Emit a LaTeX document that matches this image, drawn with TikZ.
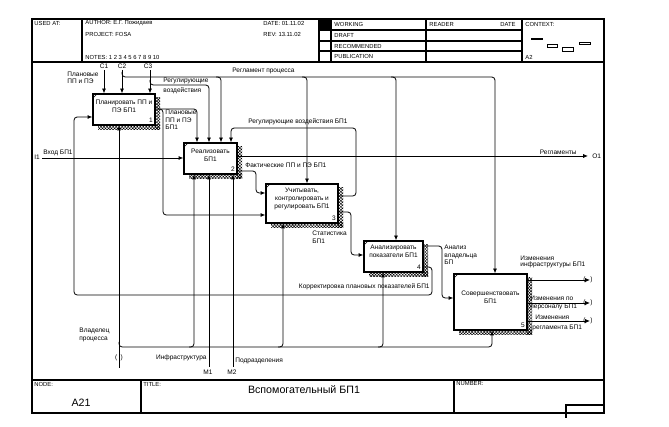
\documentclass[tikz,border=0pt]{standalone}
\usepackage{fontspec}
\setmainfont{Liberation Sans}
\usetikzlibrary{arrows.meta,patterns.meta,fit}
\begin{document}
\begin{tikzpicture}[x=0.75pt,y=-0.75pt,
  line width=0.6pt,
  frm/.style={line width=0.8pt},
  box/.style={draw, line width=0.9pt, inner sep=0pt, fill=white},
  arr/.style={-{Latex[length=3.6pt,width=3pt]}, rounded corners=2.4pt, line width=0.6pt},
  lbl/.style={font=\fontsize{4.9}{5.6}\selectfont, inner sep=0pt, align=left},
  btx/.style={font=\fontsize{4.9}{6.2}\selectfont, inner sep=0pt, align=center},
  hdr/.style={font=\fontsize{4.4}{5}\selectfont, inner sep=0pt, anchor=west},
  shd/.style={pattern={Hatch[angle=45,distance=1.6pt,line width=0.35pt]}},
  mk/.style={line width=0.4pt}]
\useasboundingbox (0,0) rectangle (669,427);
% ---------- frame ----------
\draw[frm] (32,19) rectangle (604,413);
\draw[frm] (32,62) -- (604,62);
\draw[frm] (32,380) -- (604,380);
\draw[frm] (82,19) -- (82,62);
\draw[frm] (319,19) -- (319,62);
\draw[frm] (331,19) -- (331,62);
\draw[frm] (426,19) -- (426,62);
\draw[frm] (522,19) -- (522,62);
\draw[frm] (319,30) -- (522,30);
\draw[frm] (319,41) -- (522,41);
\draw[frm] (319,51) -- (522,51);
\fill (319,19) rectangle (331,30);
\draw[frm] (141,380) -- (141,413);
\draw[frm] (454,380) -- (454,413);
\draw[frm] (566,418) -- (566,405) -- (604,405);
% header text
\node[hdr] at (34,23) {USED AT:};
\node[hdr] at (85,23) {AUTHOR:  Е.Г. Пожидаев};
\node[hdr] at (85,34) {PROJECT:  FOSA};
\node[hdr] at (85,57) {NOTES:  1  2  3  4  5  6  7  8  9  10};
\node[hdr] at (263,23) {DATE: 01.11.02};
\node[hdr] at (263,34) {REV:  13.11.02};
\node[hdr] at (334,24.5) {WORKING};
\node[hdr] at (334,35.5) {DRAFT};
\node[hdr] at (334,46) {RECOMMENDED};
\node[hdr] at (334,56.5) {PUBLICATION};
\node[hdr] at (429,24.5) {READER};
\node[hdr] at (500,24.5) {DATE};
\node[hdr] at (525,24.5) {CONTEXT:};
\node[hdr] at (525,57) {A2};
\fill (531,38) rectangle (543,40);
\draw[mk] (547,44) rectangle (557,47);
\draw[mk] (562,47) rectangle (573,51);
\draw[mk] (579,42) rectangle (590,44);
% footer text
\node[hdr] at (34,384) {NODE:};
\node[font=\fontsize{8}{9}\selectfont, inner sep=0pt] at (81,403) {A21};
\node[hdr] at (143,384) {TITLE:};
\node[font=\fontsize{8}{10}\selectfont, inner sep=0pt] at (304,390) {Вспомогательный БП1};
\node[hdr] at (456,384) {NUMBER:};
% ---------- shadows ----------
\path[shd] (155,98) rectangle (160,130);
\path[shd] (98,125) rectangle (160,130);
\path[shd] (237,147) rectangle (242,179);
\path[shd] (189,174) rectangle (242,179);
\path[shd] (338,188) rectangle (343,228);
\path[shd] (271,223) rectangle (343,228);
\path[shd] (423,245) rectangle (428,277);
\path[shd] (369,272) rectangle (428,277);
\path[shd] (527,278) rectangle (532,335);
\path[shd] (459,330) rectangle (532,335);
% ---------- boxes ----------
\node[box, fit={(93,94) (155,125)}] (b1) {};
\node[box, fit={(184,143) (237,174)}] (b2) {};
\node[box, fit={(266,184) (338,223)}] (b3) {};
\node[box, fit={(364,241) (423,272)}] (b4) {};
\node[box, fit={(454,274) (527,330)}] (b5) {};
\draw[mk] (93,98) -- (97,94);
\draw[mk] (184,147) -- (188,143);
\draw[mk] (266,188) -- (270,184);
\draw[mk] (364,245) -- (368,241);
\draw[mk] (454,278) -- (458,274);
\node[btx] (t1) at (124,106) {Планировать ПП и\\ПЭ БП1};
\node[btx] (t2) at (210.5,155) {Реализовать\\БП1};
\node[btx] (t3) at (302,199) {Учитывать,\\контролировать и\\регулировать БП1};
\node[btx] (t4) at (393.5,251) {Анализировать\\показатели БП1};
\node[btx] (t5) at (490.5,297) {Совершенствовать\\БП1};
\node[lbl] at (151,120.5) {1};
\node[lbl] at (233,169.5) {2};
\node[lbl] at (334,218.5) {3};
\node[lbl] at (419,267.5) {4};
\node[lbl] at (523,325.5) {5};
% ---------- controls ----------
\coordinate (C1) at (104,70);
\coordinate (C2) at (122,70);
\coordinate (C3) at (150,70);
\node[lbl] at (104,66) {C1};
\node[lbl] at (122,66) {C2};
\node[lbl] at (148,66) {C3};
\draw[arr] (C1) -- (C1 |- b1.north);
\draw[arr] (C2) -- (C2 |- b1.north);
\draw[arr] (C3) -- (C3 |- b1.north);
\node[lbl, anchor=north west] at (67,71.5) {Плановые\\ПП и ПЭ};
% Регламент процесса
\coordinate (r2) at (221,77);
\coordinate (r3) at (307,77);
\coordinate (r4) at (396,77);
\coordinate (r5) at (495,77);
\draw[arr] (122,72) -- (122,77) -- (r5) -- (r5 |- b5.north);
\draw[arr] (216,77) -- (r2) -- (r2 |- b2.north);
\draw[arr] (302,77) -- (r3) -- (r3 |- b3.north);
\draw[arr] (391,77) -- (r4) -- (r4 |- b4.north);
\node[lbl, anchor=west] at (232,71) {Регламент процесса};
% Регулирующие воздействия
\coordinate (v3) at (209,85);
\draw[arr] (150,80) -- (150,85) -- (v3) -- (v3 |- b2.north);
\node[lbl, anchor=west] at (163,80.5) {Регулирующие};
\node[lbl, anchor=west] at (163,90.5) {воздействия};
% ---------- box 1 output ----------
\coordinate (p1) at (197,109);
\coordinate (p2) at (163,215);
\draw[arr] (b1.east |- p1) -- (p1) -- (p1 |- b2.north);
\draw[arr] (158,109) -- (163,109) -- (p2) -- (p2 -| b3.west);
\node[lbl, anchor=north west] at (165,110) {Плановые\\ПП и ПЭ\\БП1};
% ---------- input ----------
\coordinate (I1) at (42,158);
\draw[arr] (I1) -- (I1 -| b2.west);
\node[lbl] at (37,157.5) {I1};
\node[lbl, anchor=west] at (43,153) {Вход БП1};
% ---------- box 2 outputs ----------
\coordinate (O1) at (588,156);
\draw[arr] (b2.east |- O1) -- (O1);
\node[lbl, anchor=west] at (592,156) {O1};
\node[lbl, anchor=east] at (577,152) {Регламенты};
\coordinate (f1) at (256,193);
\draw[arr] (237,171) -- (256,171) -- (f1) -- (f1 -| b3.west);
\node[lbl, anchor=west] at (245,165) {Фактические ПП и ПЭ БП1};
% ---------- box 3 outputs ----------
\coordinate (g1) at (356,128);
\coordinate (g2) at (231,128);
\draw[arr] (b3.east |- 0,196) -- (356,196) -- (g1) -- (g2) -- (g2 |- b2.north);
\node[lbl, anchor=west] at (248,122) {Регулирующие воздействия БП1};
\coordinate (s1) at (351,255);
\draw[arr] (b3.east |- 0,212) -- (351,212) -- (s1) -- (s1 -| b4.west);
\node[lbl, anchor=north west] at (312,231) {Статистика\\БП1};
% ---------- box 4 outputs ----------
\coordinate (a1) at (442,298);
\draw[arr] (b4.east |- 0,246) -- (442,246) -- (a1) -- (a1 -| b5.west);
\node[lbl, anchor=north west] at (444,245) {Анализ\\владельца\\БП};
\coordinate (k1) at (74,117);
\draw[arr] (b4.east |- 0,267) -- (432,267) -- (432,295) -- (74,295) -- (k1) -- (k1 -| b1.west);
\node[lbl, anchor=east] at (430,287) {Корректировка плановых показателей БП1};
% ---------- mechanisms ----------
\coordinate (m0) at (119,368);
\draw[arr] (m0) -- (m0 |- b1.south);
\coordinate (h2) at (194,347);
\coordinate (h3) at (283,347);
\coordinate (h4) at (383,347);
\coordinate (h5) at (492,347);
\draw[arr] (119,342) -- (119,347) -- (h5) -- (h5 |- b5.south);
\draw[arr] (189,347) -- (h2) -- (h2 |- b2.south);
\draw[arr] (278,347) -- (h3) -- (h3 |- b3.south);
\draw[arr] (378,347) -- (h4) -- (h4 |- b4.south);
\node[lbl] at (116.3,358) {(};
\node[lbl] at (121.7,358) {)};
\node[lbl, anchor=north west] at (79,328) {Владелец\\процесса};
\coordinate (M1) at (209,367);
\coordinate (M2) at (233,367);
\draw[arr] (M1) -- (M1 |- b2.south);
\draw[arr] (M2) -- (M2 |- b2.south);
\node[lbl] at (208,372.5) {M1};
\node[lbl] at (232,372.5) {M2};
\node[lbl, anchor=east] at (207,358) {Инфраструктура};
\node[lbl, anchor=west] at (235,361) {Подразделения};
% ---------- box 5 outputs ----------
\coordinate (e1) at (590,280);
\coordinate (e2) at (590,303);
\coordinate (e3) at (590,321);
\draw[arr] (b5.east |- e1) -- (e1);
\draw[arr] (b5.east |- e2) -- (e2);
\draw[arr] (b5.east |- e3) -- (e3);
\foreach \yy in {280,303,321}{
  \node[lbl] at (584.5,\yy) {(};
  \node[lbl] at (591.5,\yy) {)};
}
\node[lbl, anchor=west] at (520,258) {Изменения};
\node[lbl, anchor=west] at (520,265) {инфраструктуры БП1};
\node[lbl, anchor=west] at (530,298.5) {Изменения по};
\node[lbl, anchor=west] at (530,307) {персоналу БП1};
\node[lbl, anchor=west] at (535,317) {Изменения};
\node[lbl, anchor=west] at (532,328) {регламента БП1};
\end{tikzpicture}
\end{document}
